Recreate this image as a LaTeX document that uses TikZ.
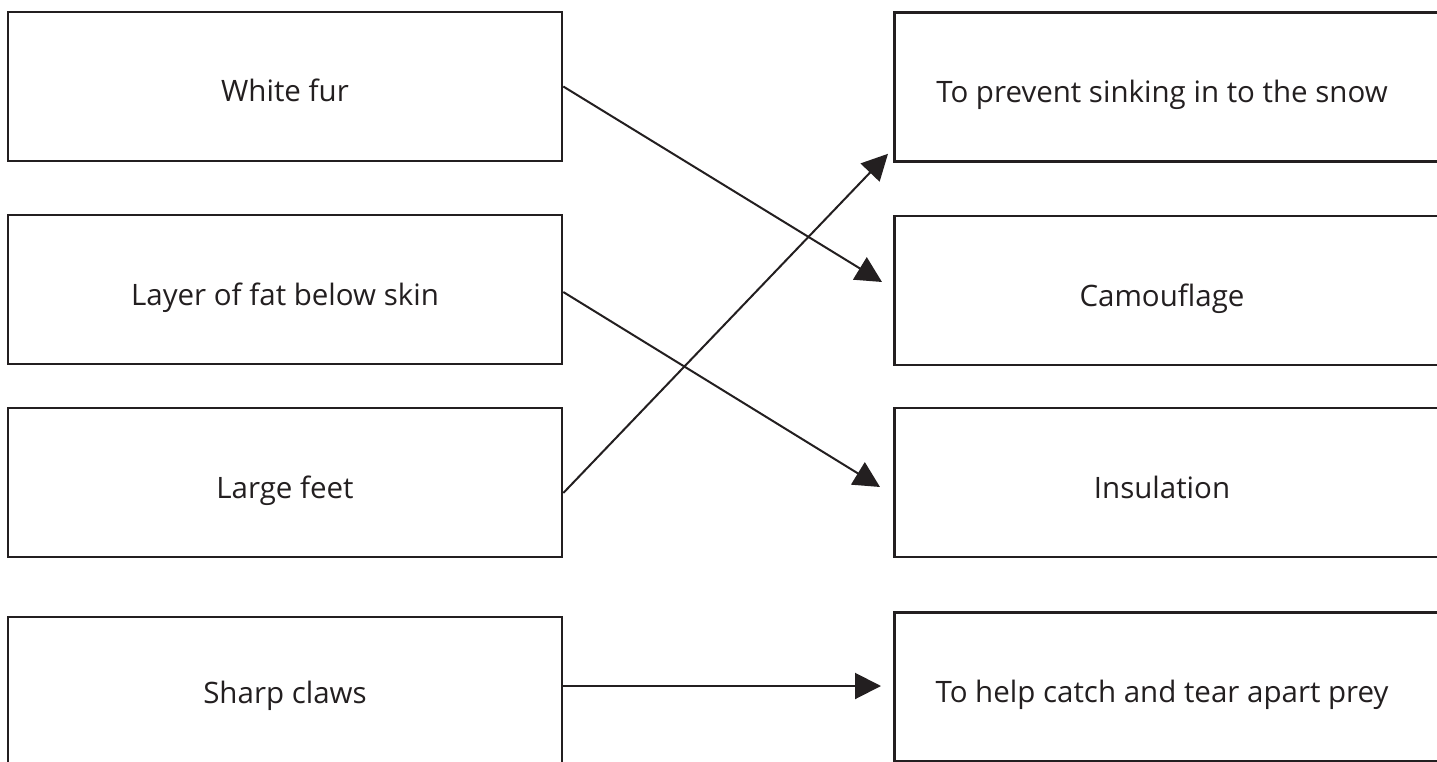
\documentclass[tikz,border=0pt]{standalone}
\usepackage{fontspec}
\setmainfont{Open Sans}
\usetikzlibrary{arrows.meta}
\definecolor{ink}{HTML}{231F20}
\tikzset{
  box/.style={draw=ink, line width=2.6pt, rectangle, minimum width=554pt, minimum height=149pt, inner sep=0pt},
  rbox/.style={box, minimum width=560pt, anchor=west},
  lbl/.style={text=ink, font=\fontsize{29.5}{34}\selectfont, anchor=base, inner sep=0pt},
  link/.style={draw=ink, line width=2pt, -{Triangle[length=26pt,width=26pt]}}
}
\begin{document}
\begin{tikzpicture}[x=1pt,y=-1pt]
\useasboundingbox (0,0) rectangle (1437,762);
\clip (0,0) rectangle (1437,762);
% left boxes
\node[box] (wf) at (285,86.5) {};
\node[box] (fat) at (285,289.5) {};
\node[box] (feet) at (285,482.5) {};
\node[box] (claws) at (285,691.5) {};
\node[lbl] (twf) at ([yshift=-15.5pt]wf.center) {White fur};
\node[lbl] (tfat) at ([yshift=-15.5pt]fat.center) {Layer of fat below skin};
\node[lbl] (tfeet) at ([yshift=-15.5pt]feet.center) {Large feet};
\node[lbl] (tclaws) at ([yshift=-12pt]claws.center) {Sharp claws};
% right boxes
\node[rbox] (snow) at (893,87) {};
\node[rbox] (cam) at (893,290.5) {};
\node[rbox] (ins) at (893,482.5) {};
\node[rbox] (prey) at (893,687) {};
\node[lbl] (tsnow) at (1162,102.5) {To prevent sinking in to the snow};
\node[lbl] (tcam) at (1162,306) {Camouflage};
\node[lbl] (tins) at (1162,498) {Insulation};
\node[lbl] (tprey) at (1162,702) {To help catch and tear apart prey};
% connectors
\draw[link] (wf.east) -- ([shift={(-11,-8.5)}]cam.west);
\draw[link] ([yshift=-2.5pt]fat.east) -- ([shift={(-13,4.5)}]ins.west);
\draw[link] ([yshift=-10.5pt]feet.east) -- ([shift={(-5,-9)}]snow.south west);
\draw[link] ([yshift=5.5pt]claws.east) -- ([shift={(-12,-1)}]prey.west);
\end{tikzpicture}
\end{document}
